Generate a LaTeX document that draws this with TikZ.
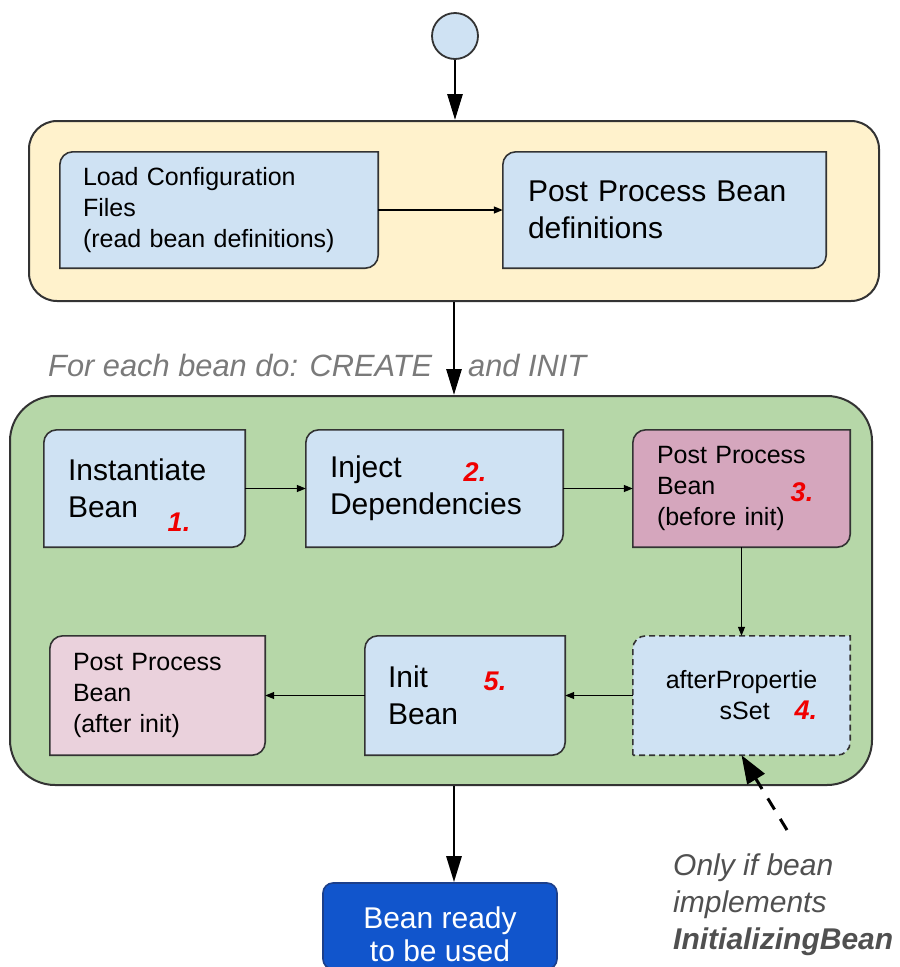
\documentclass[tikz,border=0pt]{standalone}
\usepackage{fontspec}
\setmainfont{Liberation Sans}
\usetikzlibrary{arrows.meta,shapes.geometric}
\definecolor{lblue}{HTML}{CFE2F3}
\definecolor{cyellow}{HTML}{FFF2CC}
\definecolor{cgreen}{HTML}{B6D7A8}
\definecolor{pinkA}{HTML}{D5A6BD}
\definecolor{pinkB}{HTML}{EAD1DC}
\definecolor{cblue}{HTML}{1155CC}
\definecolor{bluedge}{HTML}{1C3F8A}
\definecolor{edge}{HTML}{333333}
\definecolor{lgray}{HTML}{7A7A7A}
\definecolor{ngray}{HTML}{505050}
\definecolor{nred}{HTML}{F00000}
\pgfdeclarelayer{bgA}\pgfdeclarelayer{bgB}\pgfsetlayers{bgA,bgB,main}
\newcommand\bigtxt{\fontsize{30}{37}\selectfont}
\newcommand\smalltxt{\fontsize{25}{31}\selectfont}
\newcommand\numtxt{\fontsize{27}{27}\selectfont\bfseries\itshape\color{nred}}
\newcommand\docshape[2]{%
\path[#2] (#1.south west) -- ([yshift=-13pt]#1.north west) .. controls ([yshift=-5.8pt]#1.north west) and ([xshift=5.8pt]#1.north west) .. ([xshift=13pt]#1.north west) -- (#1.north east) -- ([yshift=13pt]#1.south east) .. controls ([yshift=5.8pt]#1.south east) and ([xshift=-5.8pt]#1.south east) .. ([xshift=-13pt]#1.south east) -- cycle;}
\tikzset{
  boxnode/.style={inner ysep=0pt, align=left, text=black},
  container/.style={draw=edge, line width=2pt, inner sep=0pt},
  boxline/.style={draw=edge, line width=1.6pt},
  flowarrow/.style={draw=black, line width=1.3pt, -{Triangle[length=9pt,width=7pt]}},
  mainarrow/.style={draw=black, line width=2.8pt, -{Triangle[length=26pt,width=15pt]}},
  notearrow/.style={draw=black, line width=3pt, dash pattern=on 13pt off 11pt, -{Triangle[length=28pt,width=20pt]}},
  numnode/.style={inner sep=0pt, font=\numtxt}
}
\begin{document}
\begin{tikzpicture}[x=1pt,y=-1pt]
\useasboundingbox (0,0) rectangle (900,967);
% containers
\begin{pgfonlayer}{bgA}
\node[container, fill=cyellow, rounded corners=28pt, minimum width=850pt, minimum height=180pt] (yellow) at (454,211) {};
\node[container, fill=cgreen, rounded corners=45pt, minimum width=862pt, minimum height=389pt] (green) at (441,590.5) {};
\end{pgfonlayer}
% start circle
\node[circle, draw=edge, line width=1.8pt, fill=lblue, minimum size=46pt, inner sep=0pt] (start) at (455,36) {};
% boxes
\node[boxnode, font=\smalltxt, minimum width=318pt, minimum height=116pt, text width=272pt, inner xsep=23pt] (load) at (219,210) {Load Configuration\\Files\\(read bean definitions)};
\node[boxnode, font=\bigtxt, minimum width=323pt, minimum height=116pt, text width=273pt, inner xsep=25pt] (ppdef) at (664.5,210) {Post Process Bean\\definitions};
\node[boxnode, font=\bigtxt, minimum width=201pt, minimum height=117pt, text width=153pt, inner xsep=24pt] (inst) at (144.5,488.5) {Instantiate\\Bean};
\node[boxnode, font=\bigtxt, minimum width=257pt, minimum height=117pt, text width=209pt, inner xsep=24pt] (inject) at (434.5,488.5) {Inject\\Dependencies};
\node[boxnode, font=\smalltxt, minimum width=217pt, minimum height=117pt, text width=169pt, inner xsep=24pt] (ppbefore) at (741.5,488.5) {Post Process\\Bean\\(before init)};
\node[inner ysep=0pt, align=right, font=\smalltxt, minimum width=217pt, minimum height=119pt] (after) at (741.5,695.5) {afterPropertie\\sSet\quad{\numtxt 4.}};
\node[boxnode, font=\bigtxt, minimum width=200pt, minimum height=119pt, text width=154pt, inner xsep=23pt] (init) at (465,695.5) {Init\\Bean};
\node[boxnode, font=\smalltxt, minimum width=215pt, minimum height=119pt, text width=169pt, inner xsep=23pt] (ppafter) at (157.5,695.5) {Post Process\\Bean\\(after init)};
\begin{pgfonlayer}{bgB}
\docshape{load}{fill=lblue, boxline}
\docshape{ppdef}{fill=lblue, boxline}
\docshape{inst}{fill=lblue, boxline}
\docshape{inject}{fill=lblue, boxline}
\docshape{ppbefore}{fill=pinkA, boxline}
\docshape{after}{fill=lblue, boxline, dash pattern=on 6pt off 4pt}
\docshape{init}{fill=lblue, boxline}
\docshape{ppafter}{fill=pinkB, boxline}
\end{pgfonlayer}
% numbers
\node[numnode] (n1) at (179,522) {1.};
\node[numnode] (n2) at (475,472) {2.};
\node[numnode] (n3) at (802,492) {3.};
\node[numnode] (n5) at (495,681) {5.};
% final box
\node[draw=bluedge, line width=1.6pt, fill=cblue, rounded corners=10pt, minimum width=234pt, minimum height=86pt] (bean) at (440,926) {};
\node[inner sep=0pt, align=center, text=white, font=\fontsize{30}{33}\selectfont] (beanlbl) at ([yshift=-8pt]bean.center) {Bean ready\\to be used};
% labels
\node[anchor=west, inner sep=0pt, text=lgray, font=\fontsize{30.8}{30.8}\selectfont\itshape] (foreach) at (48,365) {For each bean do: CREATE\hspace{36pt}and INIT};
\node[anchor=west, align=left, inner sep=0pt, text=ngray, font=\fontsize{30}{37}\selectfont\itshape] (note) at (673,905) {Only if bean\\implements\\\textbf{InitializingBean}};
\coordinate (notetail) at (787,830);
% connectors
\draw[mainarrow] (start.south) -- (start.south |- yellow.north);
\draw[mainarrow] (yellow.south) -- (yellow.south |- green.north);
\draw[mainarrow] (green.south -| yellow.south) -- (bean.north -| yellow.south);
\draw[flowarrow] (load.east) -- (ppdef.west);
\draw[flowarrow] (inst.east) -- (inject.west);
\draw[flowarrow] (inject.east) -- (ppbefore.west);
\draw[flowarrow] (ppbefore.south) -- (after.north);
\draw[flowarrow] (after.west) -- (init.east);
\draw[flowarrow] (init.west) -- (ppafter.east);
\draw[notearrow] (notetail) -- (after.south);
\end{tikzpicture}
\end{document}
